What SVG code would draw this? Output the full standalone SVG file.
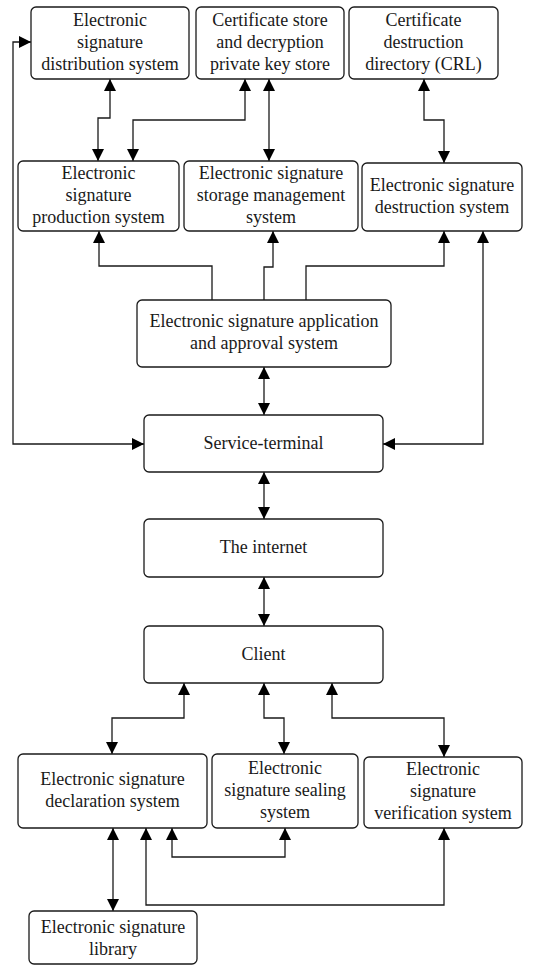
<svg xmlns="http://www.w3.org/2000/svg" width="540" height="966" viewBox="0 0 540 966">
  <style>
    .box { fill: #ffffff; stroke: #1a1a1a; stroke-width: 1.3; }
    .lbl { font-family: "Liberation Serif", "Times New Roman", serif; font-size: 18px; fill: #1a1a1a; text-anchor: middle; }
    .wire { fill: none; stroke: #1a1a1a; stroke-width: 1.3; }
    .both { marker-start: url(#tip); marker-end: url(#tip); }
    .one { marker-end: url(#tip); }
  </style>
  <defs>
    <marker id="tip" markerUnits="userSpaceOnUse" markerWidth="12" markerHeight="12" refX="12" refY="6" orient="auto-start-reverse">
      <path d="M0,0 L12,6 L0,12 z" fill="#000000"/>
    </marker>
  </defs>
  <rect width="540" height="966" fill="#ffffff"/>

  <!-- connectors -->
  <g id="connectors">
    <path class="wire both" d="M31,42 L13,42 L13,444 L144,444"/>
    <path class="wire both" d="M483,231 L483,444 L383,444"/>
    <path class="wire both" d="M110,79 L110,118 L98,118 L98,161"/>
    <path class="wire both" d="M245,79 L245,120 L133,120 L133,161"/>
    <path class="wire both" d="M269,79 L269,161"/>
    <path class="wire both" d="M424,79 L424,120 L444,120 L444,163"/>
    <path class="wire one" d="M212,300 L212,266 L99,266 L99,231"/>
    <path class="wire one" d="M264,300 L264,267 L273,267 L273,231"/>
    <path class="wire one" d="M306,300 L306,266 L444,266 L444,231"/>
    <path class="wire both" d="M264,367 L264,415"/>
    <path class="wire both" d="M264,472 L264,519"/>
    <path class="wire both" d="M264,577 L264,626"/>
    <path class="wire both" d="M184,683 L184,718 L112,718 L112,754"/>
    <path class="wire both" d="M264,683 L264,718 L284,718 L284,754"/>
    <path class="wire both" d="M332,683 L332,718 L444,718 L444,757"/>
    <path class="wire both" d="M113,828 L113,911"/>
    <path class="wire both" d="M172,828 L172,857 L285,857 L285,828"/>
    <path class="wire both" d="M146,828 L146,905 L444,905 L444,828"/>
  </g>

  <g id="distribution">
    <rect class="box" x="31" y="7" width="158" height="72" rx="5"/>
    <text class="lbl" x="110" y="26">Electronic</text>
    <text class="lbl" x="110" y="48">signature</text>
    <text class="lbl" x="110" y="70">distribution system</text>
  </g>
  <g id="certstore">
    <rect class="box" x="196" y="7" width="148" height="72" rx="5"/>
    <text class="lbl" x="270" y="26">Certificate store</text>
    <text class="lbl" x="270" y="48">and decryption</text>
    <text class="lbl" x="270" y="70">private key store</text>
  </g>
  <g id="crl">
    <rect class="box" x="349" y="7" width="149" height="72" rx="5"/>
    <text class="lbl" x="423.5" y="26">Certificate</text>
    <text class="lbl" x="423.5" y="48">destruction</text>
    <text class="lbl" x="423.5" y="70">directory (CRL)</text>
  </g>

  <g id="production">
    <rect class="box" x="18" y="161" width="161" height="70" rx="5"/>
    <text class="lbl" x="98.5" y="179">Electronic</text>
    <text class="lbl" x="98.5" y="201">signature</text>
    <text class="lbl" x="98.5" y="223">production system</text>
  </g>
  <g id="storage">
    <rect class="box" x="184" y="161" width="174" height="70" rx="5"/>
    <text class="lbl" x="271" y="179">Electronic signature</text>
    <text class="lbl" x="271" y="201">storage management</text>
    <text class="lbl" x="271" y="223">system</text>
  </g>
  <g id="destruction">
    <rect class="box" x="362" y="163" width="160" height="68" rx="5"/>
    <text class="lbl" x="442" y="191">Electronic signature</text>
    <text class="lbl" x="442" y="213">destruction system</text>
  </g>

  <g id="approval">
    <rect class="box" x="137" y="300" width="254" height="67" rx="5"/>
    <text class="lbl" x="264" y="327">Electronic signature application</text>
    <text class="lbl" x="264" y="349">and approval system</text>
  </g>

  <g id="terminal">
    <rect class="box" x="144" y="415" width="239" height="57" rx="5"/>
    <text class="lbl" x="263.5" y="449">Service-terminal</text>
  </g>

  <g id="internet">
    <rect class="box" x="144" y="519" width="239" height="58" rx="5"/>
    <text class="lbl" x="263.5" y="553">The internet</text>
  </g>

  <g id="client">
    <rect class="box" x="144" y="626" width="239" height="57" rx="5"/>
    <text class="lbl" x="263.5" y="660">Client</text>
  </g>

  <g id="declaration">
    <rect class="box" x="18" y="754" width="189" height="74" rx="5"/>
    <text class="lbl" x="112.5" y="785">Electronic signature</text>
    <text class="lbl" x="112.5" y="807">declaration system</text>
  </g>
  <g id="sealing">
    <rect class="box" x="212" y="754" width="146" height="74" rx="5"/>
    <text class="lbl" x="285" y="774">Electronic</text>
    <text class="lbl" x="285" y="796">signature sealing</text>
    <text class="lbl" x="285" y="818">system</text>
  </g>
  <g id="verification">
    <rect class="box" x="364" y="757" width="158" height="71" rx="5"/>
    <text class="lbl" x="443" y="775">Electronic</text>
    <text class="lbl" x="443" y="797">signature</text>
    <text class="lbl" x="443" y="819">verification system</text>
  </g>

  <g id="library">
    <rect class="box" x="29" y="911" width="168" height="53" rx="5"/>
    <text class="lbl" x="113" y="933">Electronic signature</text>
    <text class="lbl" x="113" y="955">library</text>
  </g>
</svg>
